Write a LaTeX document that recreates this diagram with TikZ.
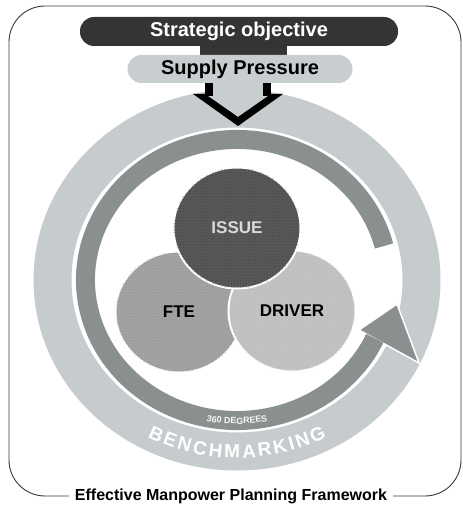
\documentclass[tikz,border=0pt]{standalone}
\usepackage{fontspec}
\setmainfont{Liberation Sans}
\usepackage{xcolor}
\usetikzlibrary{shapes.geometric, decorations.text, patterns}

\definecolor{ringlight}{RGB}{198,203,206}
\definecolor{ringdark}{RGB}{138,144,144}
\definecolor{barblack}{RGB}{52,52,52}
\definecolor{barlight}{RGB}{200,205,208}
\definecolor{issuefill}{RGB}{88,88,88}
\definecolor{ftefill}{RGB}{162,162,162}
\definecolor{driverfill}{RGB}{194,194,194}

\begin{document}
\begin{tikzpicture}[
  x=1pt, y=1pt,
  % Rings around the three circles
  outerring/.style={draw=ringlight, line width=38pt},
  innerring/.style={draw=ringdark, line width=19pt},
  % Pills along the top
  pill/.style={rectangle, rounded corners=14pt, minimum height=28pt, inner sep=0pt,
    font=\fontsize{20}{20}\selectfont\bfseries},
  topbar/.style={pill, fill=barblack, text=white, minimum width=318pt, minimum height=29pt},
  subbar/.style={pill, fill=barlight, text=black, minimum width=225pt},
  % Overlapping circles
  blob/.style={ellipse, draw=white, line width=2pt, inner sep=0pt,
    minimum width=127pt, minimum height=121pt, font=\fontsize{17}{17}\selectfont\bfseries},
  % Frame and caption
  frame/.style={draw=gray!45!black, line width=0.9pt, rounded corners=36pt},
  caption/.style={fill=white, inner xsep=6pt, inner ysep=2pt, font=\fontsize{16}{16}\selectfont\bfseries}
]
\useasboundingbox (0,0) rectangle (463,506);

%% Centre of the two rings
\coordinate (hub) at (237,226);

%% Outer ring (benchmarking)
\draw[outerring] (hub) ellipse [x radius=184.5, y radius=171.5];

%% Inner ring, open on the right, ending in a head
\draw[innerring] (hub) ++(14:151.5 and 140.5)
  arc[start angle=14, end angle=336, x radius=151.5, y radius=140.5];
\filldraw[fill=ringdark, draw=white, line width=1.5pt]
  (359,176) -- (397,202) -- (419,143) -- cycle;
\draw[innerring] (hub) ++(322:151.5 and 140.5)
  arc[start angle=322, end angle=335.5, x radius=151.5, y radius=140.5];

%% Downward arrow from the pills into the ring
\fill[barlight] (209,424) -- (267,424) -- (267,412) -- (283,412)
  -- (238,380) -- (193,412) -- (209,412) -- cycle;
\fill[black] (205,424) rectangle (213,410);
\fill[black] (263,424) rectangle (271,410);
\fill[black] (193,412) -- (238,380) -- (283,412) -- (271,412)
  -- (238,389) -- (205,412) -- cycle;

%% Pills
\fill[barblack] (200,463) rectangle (287,448);
\node[topbar] (goal) at (239,474.5) {Strategic objective};
\node[subbar] (supply) at (240,437) {Supply Pressure};

%% Circles (FTE under DRIVER, ISSUE on top)
\node[blob, fill=ftefill, postaction={pattern=dots, pattern color=black!45}]
  (fte) at (179,194) {FTE};
\node[blob, fill=driverfill, postaction={pattern=dots, pattern color=black!30}]
  (driver) at (292,195) {DRIVER};
\node[blob, fill=issuefill, text=gray!30, postaction={pattern=dots, pattern color=black!80}]
  (issue) at (237,278) {ISSUE};

%% Curved labels on the rings
\path[decorate, decoration={text along path, text align=center, text color=gray!8,
  text={|\fontsize{9}{9}\selectfont\bfseries|360 DEGREES}}]
  (hub) ++(245:155 and 144) arc[start angle=245, end angle=295, x radius=155, y radius=144];
\path[decorate, decoration={text along path, text align={fit to path}, text color=white,
  text={|\fontsize{19}{19}\selectfont\bfseries|BENCHMARKING}}]
  (hub) ++(242:191 and 178) arc[start angle=242, end angle=298, x radius=191, y radius=178];

%% Frame with the caption set into its bottom edge
\draw[frame] (9,10) rectangle (461,500);
\node[caption] (title) at (231,10) {Effective Manpower Planning Framework};

\end{tikzpicture}
\end{document}
